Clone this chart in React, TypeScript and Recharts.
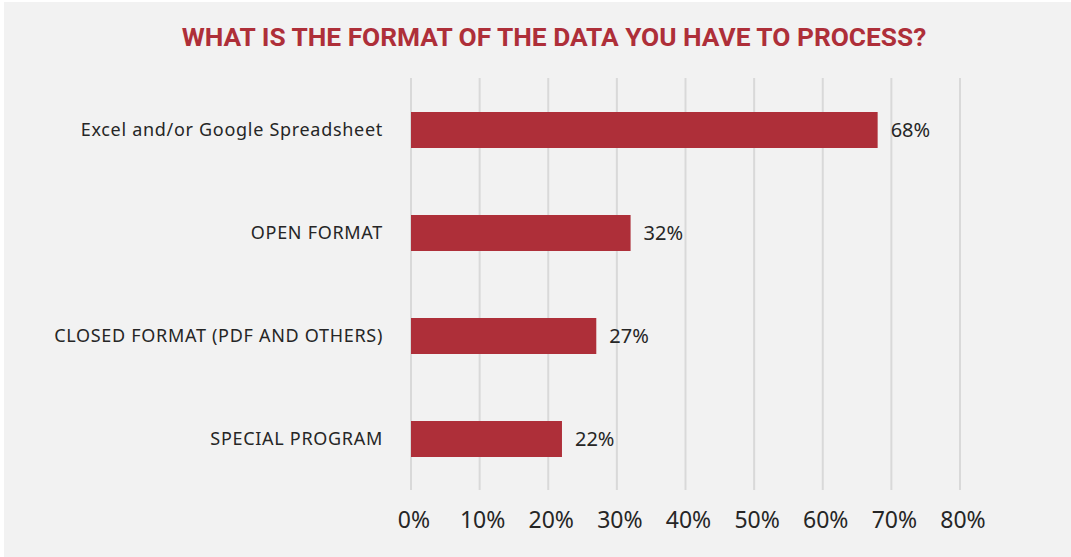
import React from "react";
import { BarChart, Bar, XAxis, YAxis, CartesianGrid, LabelList } from "recharts";

const categories = [
  "Excel and/or Google Spreadsheet",
  "OPEN FORMAT",
  "CLOSED FORMAT (PDF AND OTHERS)",
  "SPECIAL PROGRAM",
];
const values = [68, 32, 27, 22];
const xTicks = [0, 10, 20, 30, 40, 50, 60, 70, 80];
const title = "WHAT IS THE FORMAT OF THE DATA YOU HAVE TO PROCESS?";

const data = categories.map((c, i) => ({ name: c, value: values[i] }));

const RED = "#ae2f39";
const TEXT = "#262626";
const FONT = "'Noto Sans', 'Open Sans', sans-serif";

export default function App() {
  return (
    <div style={{ position: "absolute", left: 0, top: 0, width: 1071, height: 557, background: "#ffffff" }}>
      <div style={{ position: "absolute", left: 4, top: 2, width: 1067, height: 555, background: "#f2f2f2" }}>
        <BarChart
          width={1067}
          height={555}
          data={data}
          layout="vertical"
          margin={{ top: 76, right: 111, left: 0, bottom: 0 }}
          barCategoryGap={0}
        >
          <CartesianGrid horizontal={false} stroke="#d9d9d9" strokeWidth={2} />
          <XAxis
            type="number"
            domain={[0, 80]}
            ticks={xTicks}
            interval={0}
            tickFormatter={(v: number) => `${v}%`}
            axisLine={false}
            tickLine={false}
            tickSize={0}
            tickMargin={22}
            height={67}
            tick={{ fill: TEXT, fontSize: 23, fontFamily: FONT, dx: 3 }}
          />
          <YAxis
            type="category"
            dataKey="name"
            width={407}
            axisLine={false}
            tickLine={false}
            tickSize={0}
            tickMargin={28}
            interval={0}
            tick={{ fill: TEXT, fontSize: 18, fontFamily: FONT, letterSpacing: 0.7 }}
          />
          <Bar dataKey="value" fill={RED} barSize={36} isAnimationActive={false}>
            <LabelList
              dataKey="value"
              position="right"
              offset={13}
              formatter={(v: number) => `${v}%`}
              style={{ fill: TEXT, fontSize: 20, fontFamily: FONT }}
            />
          </Bar>
        </BarChart>
        <div
          style={{
            position: "absolute",
            left: 550,
            top: 19,
            transform: "translateX(-50%)",
            whiteSpace: "nowrap",
            color: RED,
            fontFamily: "Roboto, sans-serif",
            fontWeight: 700,
            fontSize: 26.3,
            lineHeight: "32px",
          }}
        >
          {title}
        </div>
      </div>
    </div>
  );
}
